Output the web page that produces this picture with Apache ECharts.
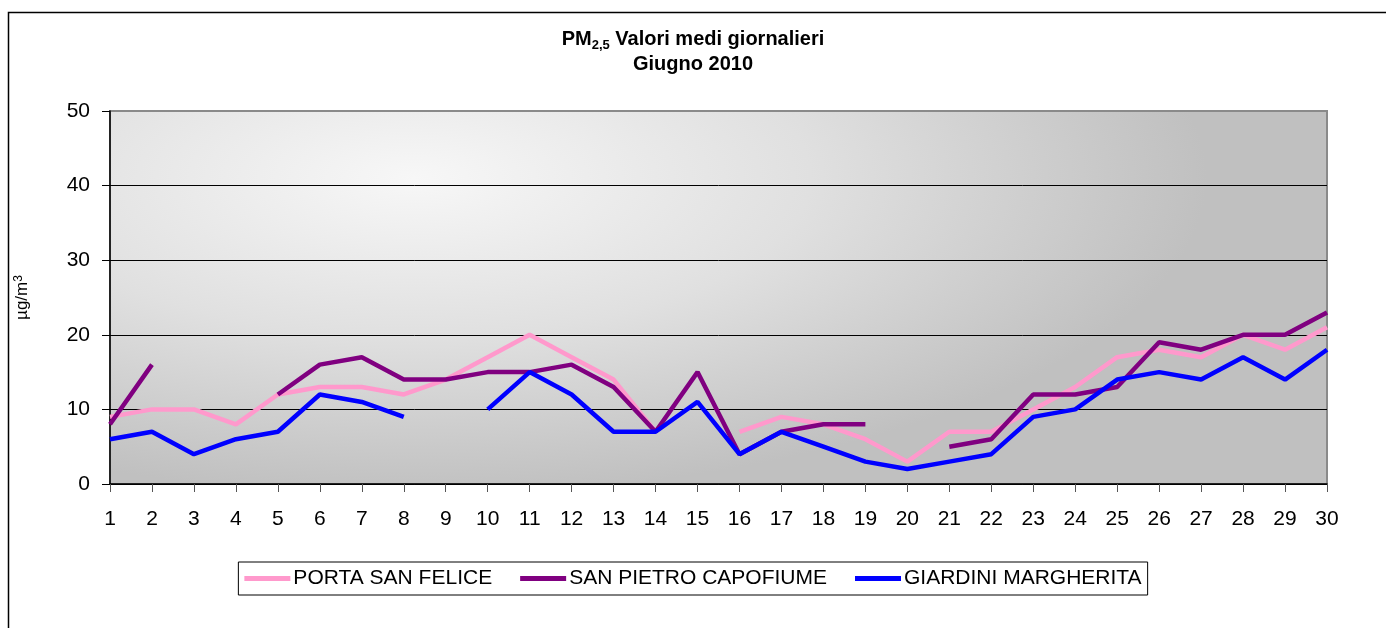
<!DOCTYPE html>
<html>
<head>
<meta charset="utf-8">
<title>PM2,5 Valori medi giornalieri - Giugno 2010</title>
<script src="https://cdn.jsdelivr.net/npm/echarts@6/dist/echarts.min.js"></script>
<style>
    html, body { margin: 0; padding: 0; background: #ffffff; }
    #chart { width: 1386px; height: 628px; }
</style>
</head>
<body>
<div id="chart"></div>
<script>
    // giorni di giugno
    const days = ['1', '2', '3', '4', '5', '6', '7', '8', '9', '10',
        '11', '12', '13', '14', '15', '16', '17', '18', '19', '20',
        '21', '22', '23', '24', '25', '26', '27', '28', '29', '30'];

    // valori medi giornalieri (µg/m3), null = dato mancante
    const portaSanFelice = [9, 10, 10, 8, 12, 13, 13, 12, 14, 17,
        20, 17, 14, 7, null, 7, 9, 8, 6, 3,
        7, 7, 10, 13, 17, 18, 17, 20, 18, 21];
    const sanPietroCapofiume = [8, 16, null, null, 12, 16, 17, 14, 14, 15,
        15, 16, 13, 7, 15, 4, 7, 8, 8, null,
        5, 6, 12, 12, 13, 19, 18, 20, 20, 23];
    const giardiniMargherita = [6, 7, 4, 6, 7, 12, 11, 9, null, 10,
        15, 12, 7, 7, 11, 4, 7, 5, 3, 2,
        3, 4, 9, 10, 14, 15, 14, 17, 14, 18];

    const yTicks = [0, 10, 20, 30, 40, 50];

    const fontFamily = '"Liberation Sans", Arial, sans-serif';
    const chart = echarts.init(document.getElementById('chart'));

    const option = {
        animation: false,
        backgroundColor: '#ffffff',
        textStyle: { fontFamily: fontFamily },
        title: {
            left: 'center',
            top: 22,
            text: '{b|PM}{s|2,5}{b| Valori medi giornalieri}\n{b|Giugno 2010}',
            textStyle: {
                rich: {
                    b: { fontSize: 20, fontWeight: 'bold', color: '#000', lineHeight: 25, fontFamily: fontFamily },
                    s: { fontSize: 13, fontWeight: 'bold', color: '#000', lineHeight: 13, verticalAlign: 'bottom', fontFamily: fontFamily }
                }
            }
        },
        graphic: [
            {
                // cornice esterna
                type: 'rect',
                silent: true,
                z: -20,
                shape: { x: 8.5, y: 12.5, width: 1420, height: 700 },
                style: { fill: 'none', stroke: '#000', lineWidth: 1.5 }
            },
            {
                // sfondo sfumato dell'area del grafico
                type: 'rect',
                silent: true,
                z: -10,
                x: 110,
                y: 111,
                scaleX: 2.5,
                shape: { x: 0, y: 0, width: 1217 / 2.5, height: 373 },
                style: {
                    fill: {
                        type: 'radial', x: 0.25, y: 0.18, r: 0.85,
                        colorStops: [
                            { offset: 0, color: '#f7f7f7' },
                            { offset: 0.5, color: '#e0e0e0' },
                            { offset: 1, color: '#c0c0c0' }
                        ]
                    }
                }
            }
        ],
        legend: {
            top: 562,
            left: 'center',
            padding: [6, 6],
            itemGap: 28,
            itemWidth: 46,
            itemHeight: 5,
            icon: 'rect',
            borderColor: '#000',
            borderWidth: 1,
            borderRadius: 0,
            backgroundColor: '#fff',
            textStyle: { fontSize: 21, color: '#000', fontFamily: fontFamily, padding: [0, 0, 0, -2] },
            data: ['PORTA SAN FELICE', 'SAN PIETRO CAPOFIUME', 'GIARDINI MARGHERITA']
        },
        grid: {
            left: 110,
            top: 111,
            right: 59,
            bottom: 144,
            show: true,
            backgroundColor: 'transparent',
            borderColor: '#8a8a8a',
            borderWidth: 2
        },
        xAxis: {
            type: 'category',
            boundaryGap: false,
            data: days,
            axisLine: { lineStyle: { color: '#000', width: 1.5 } },
            axisTick: { alignWithLabel: true, length: 8, lineStyle: { color: '#555' } },
            axisLabel: { margin: 25, fontSize: 21, color: '#000', interval: 0 },
            splitLine: { show: false }
        },
        yAxis: {
            type: 'value',
            min: yTicks[0],
            max: yTicks[yTicks.length - 1],
            interval: 10,
            name: '{a|µg/m}{s|3}',
            nameLocation: 'middle',
            nameRotate: 90,
            nameGap: 78,
            nameTextStyle: {
                rich: {
                    a: { fontSize: 17, color: '#000', fontFamily: fontFamily, lineHeight: 19 },
                    s: { fontSize: 12, color: '#000', fontFamily: fontFamily, verticalAlign: 'top', lineHeight: 12 }
                }
            },
            axisLine: { show: true, lineStyle: { color: '#000', width: 1.5 } },
            axisTick: { show: true, length: 8, lineStyle: { color: '#000' } },
            axisLabel: { margin: 20, fontSize: 21, color: '#000' },
            splitLine: {
                show: true,
                lineStyle: { color: ['#000', '#000', '#000', '#000', '#000', '#8a8a8a'], width: 1 }
            }
        },
        series: [
            {
                name: 'PORTA SAN FELICE',
                type: 'line',
                data: portaSanFelice,
                showSymbol: false,
                connectNulls: false,
                color: '#ff99cc',
                lineStyle: { width: 4.5, color: '#ff99cc' },
                z: 2
            },
            {
                name: 'SAN PIETRO CAPOFIUME',
                type: 'line',
                data: sanPietroCapofiume,
                showSymbol: false,
                connectNulls: false,
                color: '#800080',
                lineStyle: { width: 4.5, color: '#800080' },
                z: 3
            },
            {
                name: 'GIARDINI MARGHERITA',
                type: 'line',
                data: giardiniMargherita,
                showSymbol: false,
                connectNulls: false,
                color: '#0000ff',
                lineStyle: { width: 4.5, color: '#0000ff' },
                z: 4
            }
        ]
    };
    chart.setOption(option);

    window.onresize = function () {
        chart.resize();
    };
</script>
</body>
</html>
